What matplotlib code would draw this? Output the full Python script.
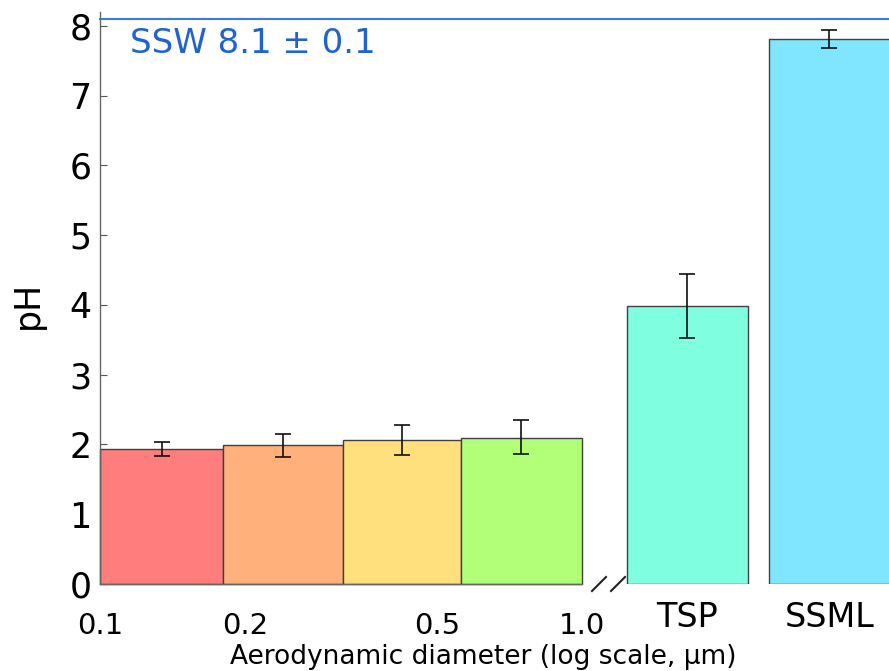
import numpy as np
from matplotlib import pyplot as plt
from matplotlib.lines import Line2D

# size-resolved aerosol pH (log-spaced bins) plus bulk samples
bin_edges = [0.1, 0.18, 0.32, 0.56, 1.0]
bin_ph = [1.94, 1.99, 2.06, 2.10]
bin_err_lo = [0.10, 0.17, 0.21, 0.24]
bin_err_hi = [0.10, 0.16, 0.22, 0.25]
bin_colors = ['#ff7d7d', '#ffb07b', '#ffe07d', '#b2ff78']

bulk_labels = ['TSP', 'SSML']
bulk_ph = [3.99, 7.81]
bulk_err_lo = [0.46, 0.13]
bulk_err_hi = [0.46, 0.13]
bulk_colors = ['#80ffe0', '#80e5ff']

ssw_ph = 8.1
ssw_text = 'SSW 8.1 ± 0.1'

W, H = 889, 671
fig = plt.figure(figsize=(W / 100, H / 100), dpi=100)
edge = '#404040'
ymax = 8.2

ax1 = fig.add_axes([100 / W, 87 / H, 482 / W, 572 / H])
ax1.set_xscale('log')
lefts = bin_edges[:-1]
widths = np.diff(bin_edges)
centers = np.sqrt(np.array(bin_edges[:-1]) * np.array(bin_edges[1:]))
bars = ax1.bar(lefts, bin_ph, width=widths, align='edge', color=bin_colors,
               edgecolor=edge, linewidth=1.0, zorder=2)
for b in bars:
    b.set_clip_on(False)
ax1.errorbar(centers, bin_ph, yerr=[bin_err_lo, bin_err_hi], fmt='none',
             ecolor='#111111', elinewidth=1.2, capsize=6, capthick=1.2, zorder=3)
ax1.set_xlim(0.1, 1.0)
ax1.set_ylim(0, ymax)
ax1.set_xticks([0.1, 0.2, 0.5, 1.0], ['0.1', '0.2', '0.5', '1.0'])
ax1.set_xticks([0.2, 0.3, 0.4, 0.5, 0.6, 0.7, 0.8, 0.9], minor=True)
ax1.tick_params(axis='x', which='major', length=0, pad=20, labelsize=21)
ax1.tick_params(axis='x', which='minor', direction='in', length=4,
                color='#555555', labelbottom=False)
ax1.set_yticks(range(9))
ax1.tick_params(axis='y', direction='in', length=5, color='#555555',
                labelsize=25, pad=6)
for s in ['top', 'right']:
    ax1.spines[s].set_visible(False)
for s in ['left', 'bottom']:
    ax1.spines[s].set_color('#666666')
    ax1.spines[s].set_linewidth(1.0)

# bulk samples on their own axis after the break
ax2 = fig.add_axes([595 / W, 87 / H, (W - 595) / W, 572 / H])
ax2.bar([1, 2], bulk_ph, width=0.852, color=bulk_colors, edgecolor=edge,
        linewidth=1.0, zorder=2)
ax2.errorbar([1, 2], bulk_ph, yerr=[bulk_err_lo, bulk_err_hi], fmt='none',
             ecolor='#111111', elinewidth=1.2, capsize=6, capthick=1.2, zorder=3)
ax2.set_xlim(0.349, 2.42)
ax2.set_ylim(0, ymax)
ax2.set_xticks([1, 2], bulk_labels)
ax2.tick_params(axis='x', length=0, pad=12, labelsize=24)
ax2.set_yticks([])
for s in ax2.spines.values():
    s.set_visible(False)
ax2.patch.set_alpha(0)

# seawater reference line across both panels
ax1.axhline(ssw_ph, xmin=0, xmax=(W - 100) / 482, color='#3a7bd5',
            linewidth=1.5, clip_on=False, zorder=4)
ax1.text(0.062, 7.75, ssw_text, transform=ax1.get_yaxis_transform(),
         color='#1f62d0', fontsize=24.5, va='center', ha='left')

# axis break marks
for x0 in [592, 611]:
    fig.add_artist(Line2D([x0 / W, (x0 + 14) / W], [1 - 591 / H, 1 - 577 / H],
                          color='#222222', linewidth=1.5))

fig.text(483 / W, 1 - 657 / H, 'Aerodynamic diameter (log scale, µm)',
         ha='center', va='center', fontsize=19)
fig.text(28 / W, 1 - 305 / H, 'pH', rotation=90, ha='center', va='center',
         fontsize=25)

fig.savefig('out.png', dpi=100)
